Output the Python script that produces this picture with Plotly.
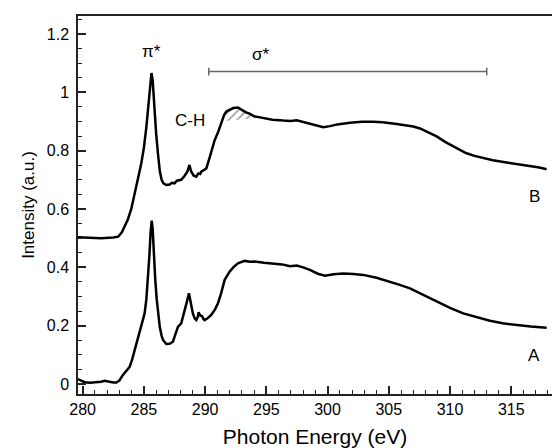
import plotly.graph_objects as go

# ---- data ----
energy_B = [279.62, 280.5, 281.5, 282.5, 282.9, 283.2, 283.43, 283.7, 283.97, 284.2, 284.38, 284.6,
            284.79, 285.0, 285.2, 285.4, 285.55, 285.62, 285.72, 285.85, 286.0, 286.15, 286.3, 286.45,
            286.6, 286.83, 287.1, 287.3, 287.5, 287.7, 288.05, 288.3, 288.55, 288.72, 288.85, 289.05,
            289.28, 289.45, 289.6, 289.69, 289.85, 290.1, 290.4, 290.78, 291.05, 291.32, 291.55, 291.73,
            292.0, 292.3, 292.68, 293.0, 293.3, 293.67, 294.0, 294.48, 295.0, 295.5, 296.38, 297.0,
            297.48, 298.0, 298.8, 299.4, 299.65, 300.2, 300.8, 301.83, 302.8, 303.73, 304.5, 305.64,
            306.5, 307.0, 307.55, 308.3, 308.91, 309.6, 310.54, 311.3, 312.0, 312.72, 313.5, 314.5, 315.44,
            316.5, 317.3, 317.89]
intensity_B = [0.503, 0.502, 0.500, 0.502, 0.505, 0.52, 0.539, 0.565, 0.60, 0.64, 0.676, 0.72,
               0.757, 0.81, 0.88, 0.98, 1.05, 1.066, 1.04, 0.95, 0.86, 0.79, 0.73, 0.70,
               0.688, 0.682, 0.684, 0.690, 0.688, 0.697, 0.700, 0.712, 0.728, 0.751, 0.73, 0.715,
               0.711, 0.722, 0.720, 0.728, 0.732, 0.739, 0.78, 0.836, 0.862, 0.894, 0.922, 0.934,
               0.940, 0.946, 0.948, 0.940, 0.932, 0.926, 0.918, 0.914, 0.910, 0.906, 0.903, 0.902,
               0.904, 0.898, 0.888, 0.882, 0.880, 0.884, 0.890, 0.896, 0.899, 0.899, 0.897, 0.891,
               0.887, 0.883, 0.876, 0.862, 0.849, 0.830, 0.808, 0.792, 0.782, 0.774, 0.767, 0.760, 0.754,
               0.748, 0.742, 0.736]

energy_A = [279.62, 279.9, 280.16, 280.6, 281.0, 281.5, 281.8, 282.2, 282.5, 282.75, 283.0, 283.29,
            283.6, 283.84, 284.05, 284.25, 284.45, 284.65, 284.85, 285.06, 285.2, 285.33, 285.45,
            285.55, 285.64, 285.72, 285.8, 285.93, 286.05, 286.15, 286.3, 286.45, 286.56, 286.83,
            287.1, 287.37, 287.6, 287.78, 288.05, 288.2, 288.33, 288.5, 288.68, 288.85, 289.0, 289.15,
            289.28, 289.4, 289.47, 289.6, 289.74, 289.85, 289.96, 290.2, 290.5, 290.8, 291.05, 291.3,
            291.6, 292.0, 292.3, 292.68, 293.23, 293.67, 294.05, 294.8, 295.57, 296.3, 296.93, 297.48,
            298.0, 298.56, 299.2, 299.79, 300.5, 301.28, 302.1, 302.92, 304.0, 305.1, 305.9, 306.73,
            307.8, 308.91, 310.0, 311.08, 312.2, 313.26, 314.3, 315.44, 316.6, 317.89]
intensity_A = [0.017, 0.012, 0.006, 0.004, 0.005, 0.008, 0.011, 0.007, 0.005, 0.005, 0.012, 0.031,
               0.045, 0.059, 0.085, 0.117, 0.145, 0.174, 0.205, 0.242, 0.29, 0.357, 0.44,
               0.52, 0.560, 0.53, 0.44, 0.357, 0.29, 0.242, 0.195, 0.165, 0.151, 0.137,
               0.138, 0.145, 0.17, 0.196, 0.208, 0.23, 0.254, 0.28, 0.311, 0.27, 0.242, 0.225,
               0.219, 0.23, 0.246, 0.235, 0.233, 0.224, 0.219, 0.225, 0.237, 0.255, 0.277, 0.31,
               0.357, 0.385, 0.400, 0.414, 0.422, 0.419, 0.420, 0.416, 0.414, 0.410, 0.404, 0.406,
               0.400, 0.391, 0.378, 0.371, 0.376, 0.379, 0.377, 0.374, 0.364, 0.351, 0.340, 0.328,
               0.306, 0.282, 0.261, 0.242, 0.228, 0.217, 0.208, 0.202, 0.197, 0.193]

x_ticks = [280, 285, 290, 295, 300, 305, 310, 315]
y_ticks = [0, 0.2, 0.4, 0.6, 0.8, 1.0, 1.2]

sigma_range = [290.3, 313.0]
sigma_level = 1.071
hatch_range = [291.6, 294.3]
hatch_chord = [0.902, 0.912]

labels = [("π*", 285.6, 1.14), ("σ*", 294.5, 1.128), ("C-H", 288.74, 0.905),
          ("B", 316.94, 0.642), ("A", 316.88, 0.099)]

FONT = "Liberation Sans, Arial, Helvetica, sans-serif"

fig = go.Figure()

# hatched region under the sigma* peak of B
hx = [e for e in energy_B if hatch_range[0] <= e <= hatch_range[1]]
hy = [v for e, v in zip(energy_B, intensity_B) if hatch_range[0] <= e <= hatch_range[1]]
hx = [hatch_range[0]] + hx + [hatch_range[1], hatch_range[0]]
hy = [hatch_chord[0]] + hy + [hatch_chord[1], hatch_chord[0]]
fig.add_trace(go.Scatter(x=hx, y=hy, mode="lines", line=dict(width=0), fill="toself",
                         fillcolor="rgba(0,0,0,0)",
                         fillpattern=dict(shape="/", fgcolor="#444444", bgcolor="rgba(0,0,0,0)",
                                          size=6, solidity=0.3),
                         hoverinfo="skip", showlegend=False))

# sigma* bar
cap = 0.013
fig.add_trace(go.Scatter(
    x=[sigma_range[0], sigma_range[0], None, sigma_range[0], sigma_range[1], None, sigma_range[1], sigma_range[1]],
    y=[sigma_level - cap, sigma_level + cap, None, sigma_level, sigma_level, None, sigma_level - cap, sigma_level + cap],
    mode="lines", line=dict(color="#666666", width=1.5), showlegend=False, hoverinfo="skip"))

fig.add_trace(go.Scatter(x=energy_B, y=intensity_B, mode="lines",
                         line=dict(color="black", width=2.5), showlegend=False))
fig.add_trace(go.Scatter(x=energy_A, y=intensity_A, mode="lines",
                         line=dict(color="black", width=2.5), showlegend=False))

for text, x, y in labels:
    fig.add_annotation(x=x, y=y, text=text, showarrow=False,
                       font=dict(family=FONT, size=17, color="black"))

fig.update_layout(
    width=552, height=448,
    margin=dict(l=78, r=0, t=16, b=54),
    paper_bgcolor="white", plot_bgcolor="white",
    font=dict(family=FONT, color="black"),
    showlegend=False,
)
fig.update_xaxes(
    range=[279.62, 318.33], tickvals=x_ticks, ticks="inside", ticklen=8, tickwidth=1.5,
    tickcolor="#222", showline=True, linecolor="#222", linewidth=1.5, mirror=True,
    showgrid=False, zeroline=False, tickfont=dict(size=16),
    minor=dict(ticks="inside", dtick=1, ticklen=4, tickwidth=1.2, tickcolor="#222", showgrid=False),
    title=dict(text="Photon Energy (eV)", font=dict(size=21), standoff=36), automargin=False,
)
fig.update_yaxes(
    range=[-0.0343, 1.2616], tickvals=y_ticks, ticks="inside", ticklen=8, tickwidth=1.5,
    tickcolor="#222", showline=True, linecolor="#222", linewidth=1.5, mirror=False,
    showgrid=False, zeroline=False, tickfont=dict(size=16), ticklabelstandoff=4,
    minor=dict(ticks="inside", dtick=0.05, ticklen=4, tickwidth=1.2, tickcolor="#222", showgrid=False),
    title=dict(text="Intensity (a.u.)", font=dict(size=17), standoff=8), automargin=False,
)

fig.write_html("out.html")
